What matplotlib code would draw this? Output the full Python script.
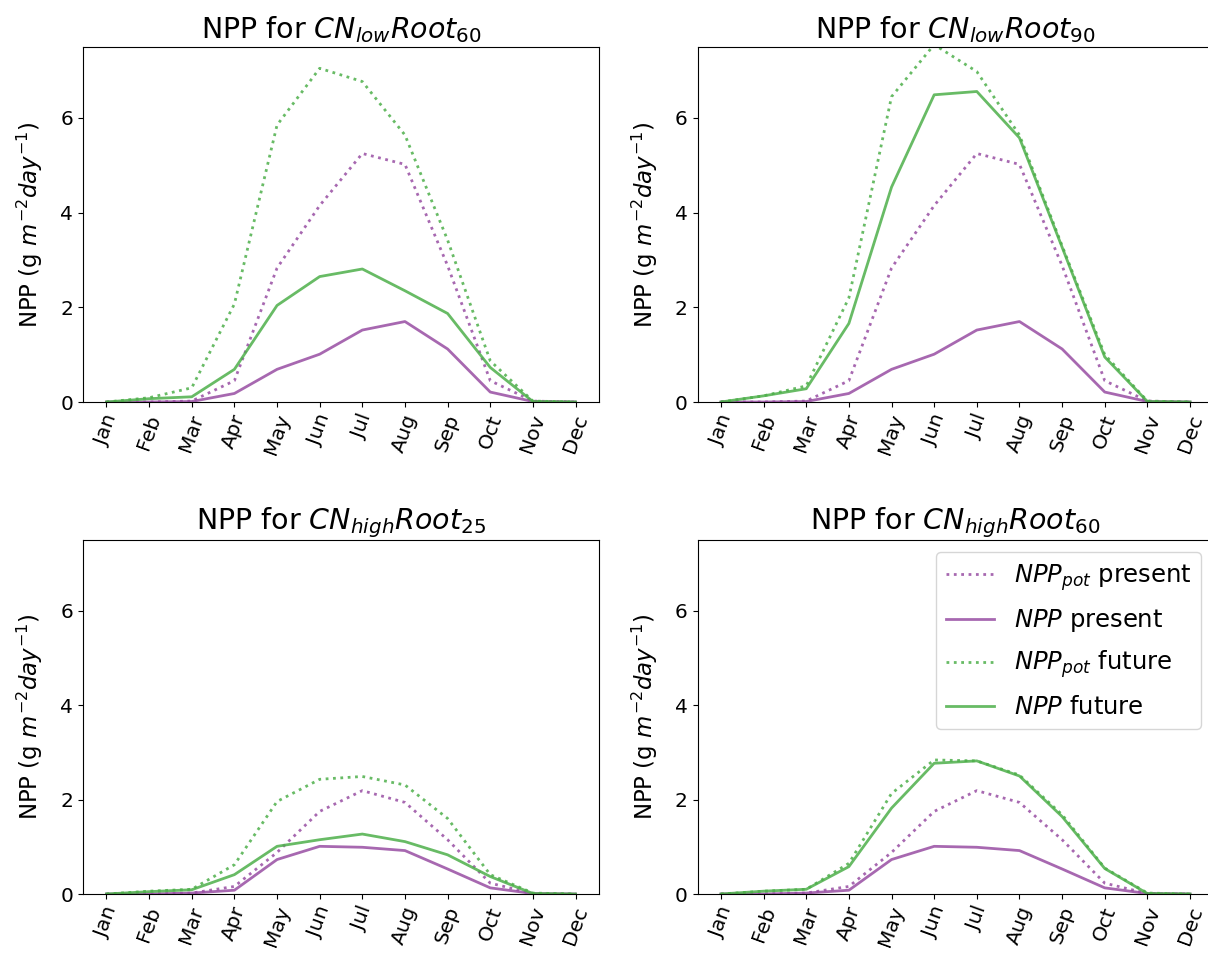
import numpy as np
import matplotlib
matplotlib.use("Agg")
import matplotlib.pyplot as plt

months = ['Jan', 'Feb', 'Mar', 'Apr', 'May', 'Jun', 'Jul', 'Aug', 'Sep', 'Oct', 'Nov', 'Dec']

# CN low, present (same for both roots)
low_pot_present = [0, 0, 0.02, 0.45, 2.83, 4.15, 5.25, 5.02, 2.88, 0.45, 0.02, 0]
low_npp_present = [0, 0, 0.01, 0.18, 0.69, 1.01, 1.52, 1.70, 1.12, 0.21, 0.01, 0]

# CN low Root 60, future
low60_pot_future = [0, 0.09, 0.30, 2.07, 5.85, 7.05, 6.77, 5.64, 3.42, 0.87, 0.02, 0]
low60_npp_future = [0, 0.07, 0.11, 0.69, 2.04, 2.65, 2.81, 2.35, 1.87, 0.73, 0.01, 0]

# CN low Root 90, future
low90_pot_future = [0, 0.13, 0.34, 2.20, 6.45, 7.55, 6.98, 5.64, 3.30, 1.00, 0.02, 0]
low90_npp_future = [0, 0.13, 0.28, 1.66, 4.54, 6.49, 6.56, 5.58, 3.27, 0.95, 0.01, 0]

# CN high, present (same for both roots)
high_pot_present = [0, 0, 0.02, 0.16, 0.88, 1.75, 2.19, 1.94, 1.15, 0.23, 0.01, 0]
high_npp_present = [0, 0, 0.02, 0.08, 0.73, 1.01, 0.99, 0.92, 0.53, 0.13, 0.01, 0]

# CN high Root 25, future
high25_pot_future = [0, 0.06, 0.10, 0.62, 1.96, 2.43, 2.49, 2.31, 1.60, 0.41, 0.02, 0]
high25_npp_future = [0, 0.05, 0.09, 0.41, 1.01, 1.15, 1.27, 1.11, 0.83, 0.37, 0.01, 0]

# CN high Root 60, future
high60_pot_future = [0, 0.06, 0.10, 0.65, 2.13, 2.84, 2.82, 2.52, 1.68, 0.55, 0.02, 0]
high60_npp_future = [0, 0.06, 0.10, 0.58, 1.82, 2.77, 2.82, 2.50, 1.64, 0.54, 0.01, 0]

titles = [r'NPP for $CN_{low}Root_{60}$', r'NPP for $CN_{low}Root_{90}$',
          r'NPP for $CN_{high}Root_{25}$', r'NPP for $CN_{high}Root_{60}$']

panels = [
    (low_pot_present, low_npp_present, low60_pot_future, low60_npp_future),
    (low_pot_present, low_npp_present, low90_pot_future, low90_npp_future),
    (high_pot_present, high_npp_present, high25_pot_future, high25_npp_future),
    (high_pot_present, high_npp_present, high60_pot_future, high60_npp_future),
]

purple = '#984ea3'
green = '#4daf4a'
fs = 14.5

W, H = 1208, 960
fig = plt.figure(figsize=(W / 100, H / 100), dpi=100)

# axes boxes in pixels: left, bottom(from top), width, height
boxes = [(83, 402, 516, 355), (697.5, 402, 516, 355),
         (83, 894, 516, 354), (697.5, 894, 516, 354)]

x = np.arange(len(months))
for i, (box, title, data) in enumerate(zip(boxes, titles, panels)):
    l, b, w, h = box
    ax = fig.add_axes([l / W, 1 - b / H, w / W, h / H])
    pot_p, npp_p, pot_f, npp_f = data
    ax.plot(x, pot_p, ':', color=purple, alpha=0.85, lw=2, label=r'$NPP_{pot}$ present')
    ax.plot(x, npp_p, '-', color=purple, alpha=0.85, lw=2, label=r'$NPP$ present')
    ax.plot(x, pot_f, ':', color=green, alpha=0.85, lw=2, label=r'$NPP_{pot}$ future')
    ax.plot(x, npp_f, '-', color=green, alpha=0.85, lw=2, label=r'$NPP$ future')
    ax.set_ylim(0, 7.5)
    ax.set_yticks([0, 2, 4, 6])
    ax.set_xticks(x)
    ax.set_xticklabels(months, rotation=70, fontsize=fs)
    ax.tick_params(axis='y', labelsize=fs)
    ax.set_ylabel(r'NPP (g $m^{-2} day^{-1}$)', fontsize=16.5, labelpad=11)
    ax.set_title(title, fontsize=20.5)
    if i == 3:
        ax.legend(loc='upper right', fontsize=17.5, labelspacing=0.6)

fig.savefig('out.png', dpi=100)
